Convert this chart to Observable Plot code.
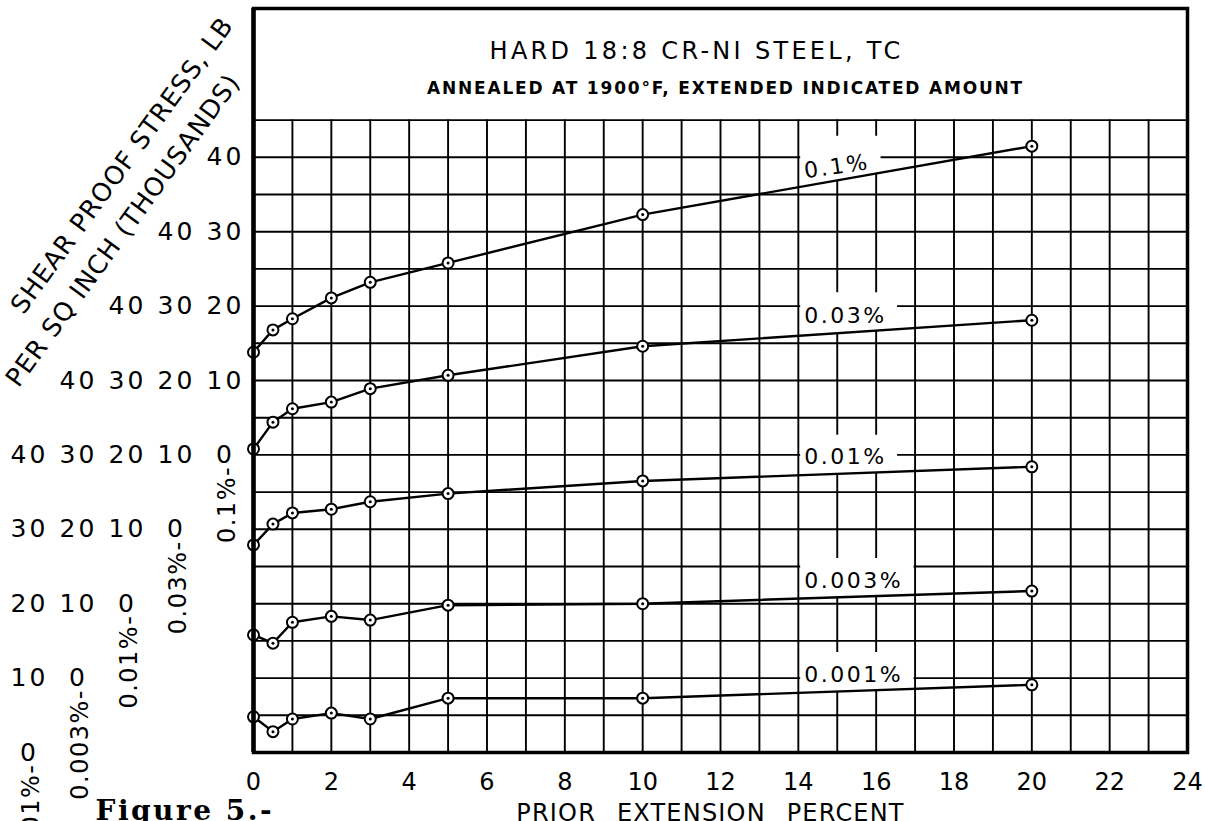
<!DOCTYPE html>
<html>
<head>
<meta charset="utf-8">
<script src="https://cdn.jsdelivr.net/npm/d3@7"></script>
<script src="https://cdn.jsdelivr.net/npm/@observablehq/plot@0.6"></script>
<style>
  html, body { margin: 0; padding: 0; background: #fff; }
  #chart svg { display: block; }
</style>
</head>
<body>
<div id="chart"></div>
<script>
// ---------------- data ----------------
const extension = [0, 0.5, 1, 2, 3, 5, 10, 20];           // prior extension, percent
const proof01   = [13.8, 16.8, 18.3, 21.1, 23.2, 25.8, 32.3, 41.5]; // 0.1% offset
const proof003  = [10.8, 14.4, 16.2, 17.1, 18.9, 20.7, 24.6, 28.1]; // 0.03%
const proof001  = [7.9, 10.7, 12.2, 12.7, 13.7, 14.8, 16.5, 18.4];  // 0.01%
const proof0003 = [5.8, 4.7, 7.5, 8.3, 7.8, 9.8, 10.0, 11.7];       // 0.003%
const proof0001 = [4.8, 2.8, 4.5, 5.3, 4.5, 7.3, 7.3, 9.1];         // 0.001%
const seriesNames  = ["0.1%", "0.03%", "0.01%", "0.003%", "0.001%"];
const seriesValues = [proof01, proof003, proof001, proof0003, proof0001];
const zeroOffsets  = [40, 30, 20, 10, 0];   // each curve's own stress scale starts 10 ksi lower
const stressTicks  = [0, 10, 20, 30, 40];
const extensionTicks = [0, 2, 4, 6, 8, 10, 12, 14, 16, 18, 20, 22, 24];
const titleText    = "HARD 18:8 CR-NI STEEL, TC";
const subtitleText = "ANNEALED AT 1900°F, EXTENDED INDICATED AMOUNT";
const yTitleLines  = ["SHEAR PROOF STRESS, LB", "PER SQ INCH (THOUSANDS)"];
const xTitleText   = "PRIOR EXTENSION PERCENT";
const figureText   = "Figure 5.-";

// ---------------- layout ----------------
const W = 1205, H = 821;
const margin = {top: 8, right: 18, bottom: 69, left: 253};
const xDomain = [0, 24], yDomain = [0, 100], gridTop = 85;
const kx = (W - margin.left - margin.right) / (xDomain[1] - xDomain[0]);

const rows = seriesNames.flatMap((s, i) =>
  extension.map((e, j) => ({series: s, ext: e, stress: seriesValues[i][j], pos: seriesValues[i][j] + zeroOffsets[i]})));

function lineAt(i, x) {
  const v = seriesValues[i];
  for (let j = 1; j < extension.length; j++) {
    if (x <= extension[j]) {
      const t = (x - extension[j - 1]) / (extension[j] - extension[j - 1]);
      return zeroOffsets[i] + v[j - 1] + t * (v[j] - v[j - 1]);
    }
  }
  return zeroOffsets[i] + v[v.length - 1];
}

const labelFont = 22, labelSpacing = 2.5;
const ctx = document.createElement("canvas").getContext("2d");
ctx.font = `${labelFont}px "DejaVu Sans"`;
const textW = s => ctx.measureText(s).width + labelSpacing * s.length;

const labelX = 14.15;
const labelRows = [], boxRows = [];
seriesNames.forEach((s, i) => {
  const w = textW(s);
  const xc = labelX + (w / 2) / kx;
  const tilt = i === 0 ? -8 : 0;
  const y = tilt ? lineAt(i, labelX) + 2.0 : lineAt(i, xc) + 2.2;
  labelRows.push({series: s, x: labelX, y, angle: tilt});
  const x1 = 14.06, x2 = labelX + (w + 11) / kx;
  const hi = lineAt(i, x2) + 4.9;
  boxRows.push({series: s, x: x1, lo: lineAt(i, x1), hi});
  boxRows.push({series: s, x: x2, lo: lineAt(i, x2), hi});
});

// per-curve stress scale columns at the left
const colX = i => 28 + 49 * (seriesNames.length - 1 - i);
const columnMarks = seriesNames.flatMap((s, i) => {
  const ticks = stressTicks.map(t => ({pos: t + zeroOffsets[i], label: String(t)}));
  return [
    Plot.text(ticks, {y: "pos", text: "label", frameAnchor: "left", dx: colX(i) - margin.left + 1,
      textAnchor: "middle", lineAnchor: "middle", fontSize: 25}),
    Plot.text([{pos: zeroOffsets[i], label: s + "-"}], {y: "pos", text: "label", frameAnchor: "left",
      dx: colX(i) - margin.left + 3, dy: 11, rotate: -90, textAnchor: "end", lineAnchor: "middle",
      fontSize: 24})
  ];
});

const chart = Plot.plot({
  width: W, height: H,
  marginTop: margin.top, marginRight: margin.right, marginBottom: margin.bottom, marginLeft: margin.left,
  style: {background: "white", color: "black", fontFamily: "DejaVu Sans", fontSize: "24px", overflow: "hidden"},
  x: {domain: xDomain, ticks: extensionTicks, tickSize: 0, tickPadding: 20, tickFormat: d => String(d), label: null},
  y: {domain: yDomain, axis: null},
  marks: [
    Plot.ruleX(d3.range(xDomain[0], xDomain[1] + 1), {y1: 0, y2: gridTop, stroke: "black", strokeWidth: 1.9}),
    Plot.ruleY(d3.range(0, gridTop + 1, 5), {x1: xDomain[0], x2: xDomain[1], stroke: "black", strokeWidth: 1.9}),
    Plot.areaY(boxRows, {x: "x", y1: "lo", y2: "hi", z: "series", fill: "white"}),
    Plot.line(rows, {x: "ext", y: "pos", z: "series", stroke: "black", strokeWidth: 2.4}),
    Plot.dot(rows, {x: "ext", y: "pos", r: 5.5, fill: "white", stroke: "black", strokeWidth: 2}),
    Plot.dot(rows, {x: "ext", y: "pos", r: 1.5, fill: "black"}),
    Plot.text(labelRows, {x: "x", y: "y", text: "series", rotate: "angle", textAnchor: "start",
      lineAnchor: "middle", fontSize: labelFont}),
    Plot.frame({stroke: "black", strokeWidth: 3.5}),
    Plot.ruleX([xDomain[0]], {y1: yDomain[0], y2: yDomain[1], stroke: "black", strokeWidth: 4.5}),
    ...columnMarks,
    Plot.text([titleText], {frameAnchor: "top", dx: -24, dy: 43, lineAnchor: "middle", fontSize: 24}),
    Plot.text([subtitleText], {frameAnchor: "top", dx: 5, dy: 80, lineAnchor: "middle", fontSize: 17, fontWeight: "bold"}),
    Plot.text([yTitleLines[0]], {frameAnchor: "top-left", dx: 23 - margin.left, dy: 315 - margin.top,
      rotate: -54, textAnchor: "start", lineAnchor: "bottom", fontSize: 25.5}),
    Plot.text([yTitleLines[1]], {frameAnchor: "top-left", dx: 18 - margin.left, dy: 388 - margin.top,
      rotate: -54, textAnchor: "start", lineAnchor: "bottom", fontSize: 25.5}),
    Plot.text([xTitleText], {frameAnchor: "bottom", dx: -10, dy: 68, lineAnchor: "bottom", fontSize: 24}),
    Plot.text([figureText], {frameAnchor: "bottom-left", dx: 95 - margin.left, dy: 48, textAnchor: "start",
      lineAnchor: "top", fontSize: 28, fontWeight: "bold", fontFamily: "DejaVu Serif"})
  ]
});

document.getElementById("chart").appendChild(chart);

// letter spacing of the hand lettering (applied to the rendered text elements)
const spacingFor = new Map([[titleText, 3.3], [subtitleText, 1.8], [yTitleLines[0], 1], [yTitleLines[1], 1],
  [xTitleText, 1.2], [figureText, 2.5]]);
seriesNames.forEach(s => { spacingFor.set(s, labelSpacing); spacingFor.set(s + "-", 1.5); });
const tickStrings = stressTicks.map(String);
d3.select(chart).selectAll("text").each(function() {
  const t = this.textContent;
  if (spacingFor.has(t)) this.style.letterSpacing = spacingFor.get(t) + "px";
  else if (tickStrings.includes(t) && this.getBoundingClientRect().right < margin.left) this.style.letterSpacing = "3px";
  if (t === xTitleText) this.style.wordSpacing = "12px";
});
</script>
</body>
</html>
